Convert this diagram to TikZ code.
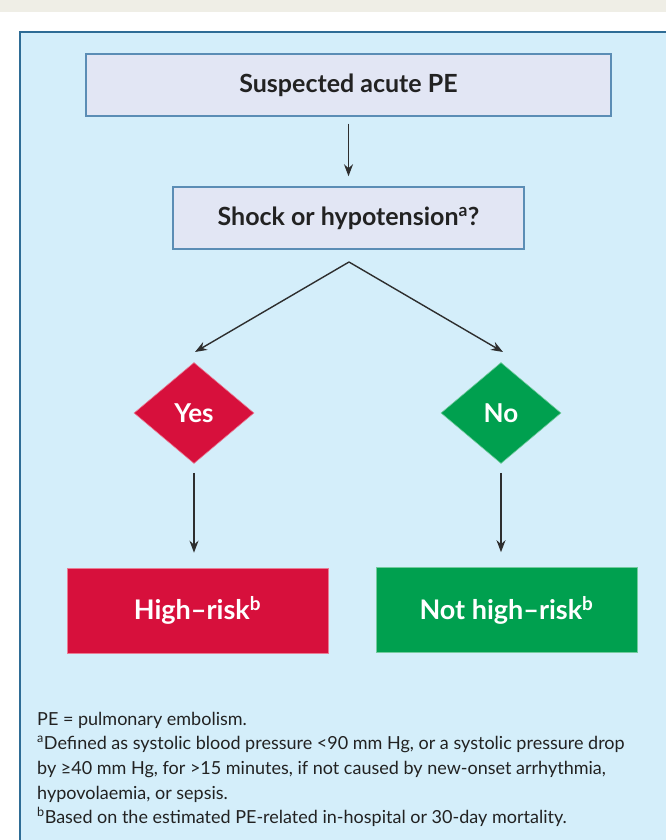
\documentclass[tikz,border=0pt]{standalone}
\usepackage{fontspec}
\setmainfont{Lato}
\usetikzlibrary{shapes.geometric,arrows.meta,calc}
\definecolor{beige}{HTML}{EFEEE6}
\definecolor{panel}{HTML}{D4EEFA}
\definecolor{panelborder}{HTML}{2E6C95}
\definecolor{boxfill}{HTML}{E2E6F4}
\definecolor{boxborder}{HTML}{5B8DB5}
\definecolor{riskred}{HTML}{D7103C}
\definecolor{riskgreen}{HTML}{00A04F}
\definecolor{ink}{HTML}{222222}
\definecolor{arrowgray}{HTML}{2E2E2E}
\begin{document}
\begin{tikzpicture}[x=1pt,y=-1pt,
  qbox/.style={draw=boxborder, line width=1.5pt, fill=boxfill, text=ink, inner sep=0pt,
    font=\bfseries\fontsize{25}{29}\selectfont},
  answer/.style={diamond, inner sep=0pt, minimum width=120pt, minimum height=101pt,
    text=white, font=\bfseries\fontsize{26}{30}\selectfont},
  riskbox/.style={inner sep=0pt, minimum width=261pt, minimum height=85pt, text=white,
    font=\bfseries\fontsize{27}{31}\selectfont},
  flow/.style={draw=arrowgray, line width=1.4pt, -{Stealth[length=12pt,width=9pt]}},
  note/.style={anchor=base west, inner sep=0pt, text=ink, font=\fontsize{18}{22}\selectfont}]
\useasboundingbox (0,0) rectangle (666,840);
\fill[beige] (0,0) rectangle (666,840);
\fill[white] (0,12) rectangle (666,840);
\draw[fill=panel, draw=panelborder, line width=2.5pt] (20,32) rectangle (690,870);

\node[qbox, minimum width=525pt, minimum height=62pt] (suspect) at (348.5,85) {Suspected acute PE};
\node[qbox, minimum width=351pt, minimum height=62pt] (shock) at (348.5,218) {Shock or hypotension\textsuperscript{a}?};

\node[answer, fill=riskred, draw=riskred!55!white, line width=0.6pt] (yes) at (194,413) {Yes};
\node[answer, fill=riskgreen, draw=riskgreen!55!white, line width=0.6pt] (no) at (501,413) {No};

\node[riskbox, fill=riskred, draw=riskred!55!white, line width=0.6pt] (high) at (197.5,610.5) {High–risk\textsuperscript{b}};
\node[riskbox, fill=riskgreen, draw=riskgreen!55!white, line width=0.6pt] (nothigh) at (506.5,610) {Not high–risk\textsuperscript{b}};

\coordinate (apex) at (349,262);
\coordinate (yesin) at (195,352);
\coordinate (noin) at (503,352);

\draw[flow, shorten <=7pt, shorten >=10pt] (suspect.south) -- (suspect.south |- shock.north);
\draw[flow] (apex) -- (yesin);
\draw[flow] (apex) -- (noin);
\draw[flow, shorten <=9pt, shorten >=15pt] (yes.south) -- (yes.south |- high.north);
\draw[flow, shorten <=9pt, shorten >=15pt] (no.south) -- (no.south |- nothigh.north);

\node[note] (n1) at (37,725) {PE = pulmonary embolism.};
\node[note] (n2) at (37,749) {\textsuperscript{a}Defined as systolic blood pressure <90 mm Hg, or a systolic pressure drop};
\node[note] (n3) at (37,774) {by ≥40 mm Hg, for >15 minutes, if not caused by new-onset arrhythmia,};
\node[note] (n4) at (37,799) {hypovolaemia, or sepsis.};
\node[note] (n5) at (37,823) {\textsuperscript{b}Based on the estimated PE-related in-hospital or 30-day mortality.};
\end{tikzpicture}
\end{document}
